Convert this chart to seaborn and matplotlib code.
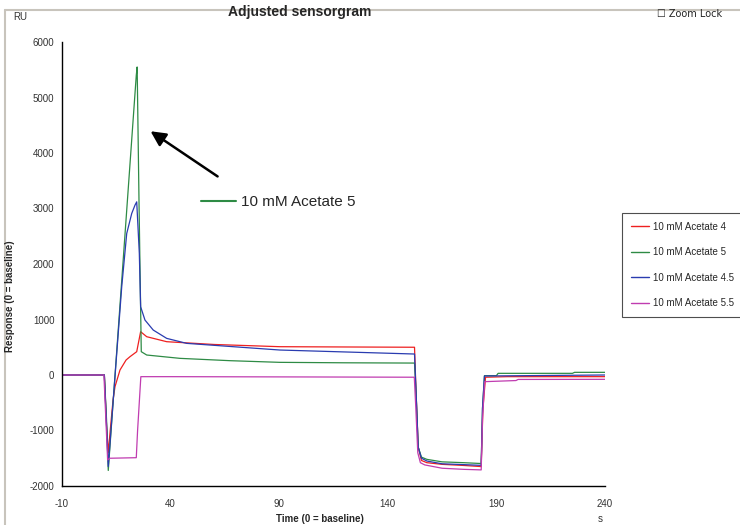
import pandas as pd
import seaborn as sns
import matplotlib.pyplot as plt
from matplotlib.lines import Line2D
from matplotlib.ticker import MultipleLocator

# values (time in s, response in RU)
t_ac4 = [-10, 9.5, 10.5, 11.3, 12.2, 13.5, 14.4, 16.7, 19.5, 21.3, 24.4, 26.2, 29, 38.2, 60, 90.3, 120,
         152.3, 153.0, 154.0, 155.5, 158, 165, 175, 183, 183.8, 185, 195, 240]
ru_ac4 = [0, 0, -900, -1400, -1000, -450, -210, 90, 270, 330, 420, 780, 690, 600, 550, 510, 505,
          500, -300, -1300, -1540, -1580, -1610, -1630, -1650, -600, -40, -30, -30]

t_ac5 = [-10, 9.5, 10.5, 11.3, 24.2, 24.6, 25.5, 26.5, 29, 44.3, 67.3, 90.3, 120, 152.3,
         153.0, 154.0, 155.5, 158, 165, 175, 183, 183.6, 184.5, 190, 190.8, 225, 226, 240]
ru_ac5 = [0, 0, -800, -1720, 5400, 5550, 3000, 420, 360, 300, 258, 228, 220, 215,
          -300, -1300, -1480, -1520, -1565, -1580, -1595, -600, -12, -12, 30, 30, 48, 48]

t_ac45 = [-10, 9.5, 10.5, 11.3, 15.2, 17.5, 19.8, 22.1, 23.6, 24.4, 25.6, 26.2, 28.2, 32, 38.2, 47.4, 90.3,
          152.3, 153.0, 154.0, 155.5, 158, 165, 175, 183, 183.6, 184.5, 240]
ru_ac45 = [0, 0, -900, -1650, 390, 1590, 2550, 2910, 3060, 3120, 2190, 1230, 990, 810, 660, 570, 450,
           378, -300, -1300, -1500, -1550, -1600, -1615, -1628, -600, -18, 0]

t_ac55 = [-10, 9.3, 10.3, 11, 12, 24.2, 24.8, 26.3, 40, 100, 152.2,
          152.9, 153.8, 155, 157, 165, 175, 183, 183.6, 184.6, 199, 200, 240]
ru_ac55 = [0, 0, -900, -1530, -1500, -1490, -1000, -30, -30, -35, -40,
           -600, -1400, -1580, -1620, -1680, -1700, -1710, -800, -120, -100, -80, -78]

labels = ['10 mM Acetate 4', '10 mM Acetate 5', '10 mM Acetate 4.5', '10 mM Acetate 5.5']
colors = ['#ee2020', '#2e8b45', '#2a3cb0', '#c03cb0']

frames = []
for lab, t, ru in zip(labels, [t_ac4, t_ac5, t_ac45, t_ac55], [ru_ac4, ru_ac5, ru_ac45, ru_ac55]):
    frames.append(pd.DataFrame({'time': t, 'ru': ru, 'series': lab}))
df = pd.concat(frames, ignore_index=True)

sns.set_style('white')
plt.rcParams['font.family'] = ['Liberation Sans', 'DejaVu Sans']
plt.rcParams['axes.unicode_minus'] = False

fig = plt.figure(figsize=(7.4, 5.25), dpi=100)
ax = fig.add_axes([62 / 740, 1 - 486 / 525, (605 - 62) / 740, (486 - 42) / 525])

sns.lineplot(data=df, x='time', y='ru', hue='series', hue_order=labels,
             palette=colors, estimator=None, sort=False, linewidth=0.9, ax=ax, legend=False)

ax.set_xlim(-10, 240)
ax.set_ylim(-2000, 6000)
ax.xaxis.set_major_locator(MultipleLocator(50, offset=-10))
ax.xaxis.set_minor_locator(MultipleLocator(25, offset=-10))
ax.yaxis.set_major_locator(MultipleLocator(1000))
ax.yaxis.set_minor_locator(MultipleLocator(500))
ax.tick_params(which='major', direction='inout', length=7, width=1, color='black',
               labelsize=7, labelcolor='#333333', pad=2)
ax.tick_params(which='minor', direction='out', length=3, width=1, color='black')
ax.tick_params(axis='x', which='major', pad=6)
for s in ['top', 'right']:
    ax.spines[s].set_visible(False)
for s in ['left', 'bottom']:
    ax.spines[s].set_color('black')
    ax.spines[s].set_linewidth(1)
ax.set_xlabel('')
ax.set_ylabel('')

# series legend, right side
handles = [Line2D([], [], color=c, lw=1) for c in colors]
leg = ax.legend(handles, labels, loc='upper left', bbox_to_anchor=(622 / 740, 1 - 213 / 525),
                bbox_transform=fig.transFigure, fontsize=7, frameon=True, fancybox=False,
                edgecolor='#222222', labelspacing=1.6, handlelength=1.9, handletextpad=0.4,
                borderpad=0.9, borderaxespad=0)
leg.get_frame().set_linewidth(0.8)
ax.add_artist(leg)

# in-plot callout for the acetate 5 curve
ax.legend([Line2D([], [], color=colors[1], lw=1.5)], ['10 mM Acetate 5'], loc='center left',
          bbox_to_anchor=(201 / 740, 1 - 202 / 525), bbox_transform=fig.transFigure,
          fontsize=11, frameon=False, handlelength=2.3, handletextpad=0.3,
          borderpad=0, borderaxespad=0)
ax.annotate('', xy=(29.7, 4420), xytext=(62.7, 3550),
            arrowprops=dict(arrowstyle='-|>,head_length=0.9,head_width=0.45', color='black', lw=1.8))

fig.text(300 / 740, 1 - 12 / 525, 'Adjusted sensorgram', ha='center', va='center',
         fontsize=10, fontweight='bold')
fig.text(20 / 740, 1 - 17 / 525, 'RU', ha='center', va='center', fontsize=7, color='#333333')
fig.text(600 / 740, 1 - 519 / 525, 's', ha='center', va='center', fontsize=7, color='#333333')
fig.text(320 / 740, 1 - 519 / 525, 'Time (0 = baseline)', ha='center', va='center',
         fontsize=7, fontweight='bold')
fig.text(10 / 740, 1 - 296 / 525, 'Response (0 = baseline)', ha='center', va='center',
         rotation=90, fontsize=7, fontweight='bold')
fig.text(690 / 740, 1 - 14 / 525, '\u2610 Zoom Lock', ha='center', va='center', fontsize=7,
         family=['DejaVu Sans'], color='#222222')

# window frame lines
fig.add_artist(Line2D([5 / 740, 1], [1 - 10 / 525, 1 - 10 / 525], transform=fig.transFigure,
                      color='#c8c4bc', lw=1.5))
fig.add_artist(Line2D([5 / 740, 5 / 740], [0, 1 - 10 / 525], transform=fig.transFigure,
                      color='#c8c4bc', lw=1.5))

fig.savefig('out.png', dpi=100)
